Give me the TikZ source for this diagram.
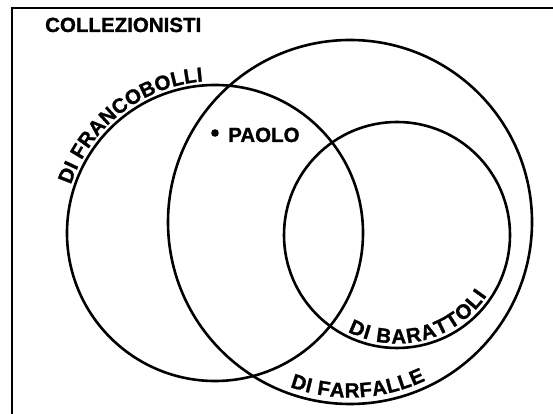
\documentclass[tikz,border=0pt]{standalone}
\usepackage{fontspec}
\setmainfont{Liberation Sans}[BoldFeatures={FakeBold=1.2}]
\usetikzlibrary{decorations.text}
\newcommand\labfont{\fontsize{20.5}{20.5}\selectfont\bfseries}
\tikzset{
  setline/.style={line width=2.6pt},
  lbl/.style={font=\labfont, inner sep=0pt},
  curvedtext/.style={decorate, decoration={text along path, text={|\labfont|#1}, text align={fit to path}}}
}
\begin{document}
\begin{tikzpicture}[x=1pt,y=1pt]
\useasboundingbox (0,0) rectangle (553,414);
% frame (only top and left edges visible)
\draw[line width=2.4pt] (12,0) -- (12,406) -- (553,406);
% centres
\coordinate (cA) at (215,181);
\coordinate (cB) at (350,192);
\coordinate (cC) at (397,179);
% circles
\draw[setline] (cA) circle[radius=148pt];
\draw[setline] (cB) circle[radius=182pt];
\draw[setline] (cC) circle[radius=113pt];
% labels
\node[lbl, anchor=base west] (title) at (45,382) {COLLEZIONISTI};
\fill (215,281) circle[radius=3.8pt] coordinate (dot);
\node[lbl, anchor=base west] (paolo) at (228,272) {PAOLO};
% curved labels
\path[curvedtext={DI FRANCOBOLLI}] (cA) ++(161.5:152) arc[start angle=161.5, end angle=94.5, radius=152pt];
\path[curvedtext={DI BARATTOLI}] (cC) ++(-117:108.5) arc[start angle=-117, end angle=-34, radius=108.5pt];
\path[curvedtext={DI FARFALLE}] (cB) ++(-110:175.5) arc[start angle=-110, end angle=-64.5, radius=175.5pt];
\end{tikzpicture}
\end{document}
